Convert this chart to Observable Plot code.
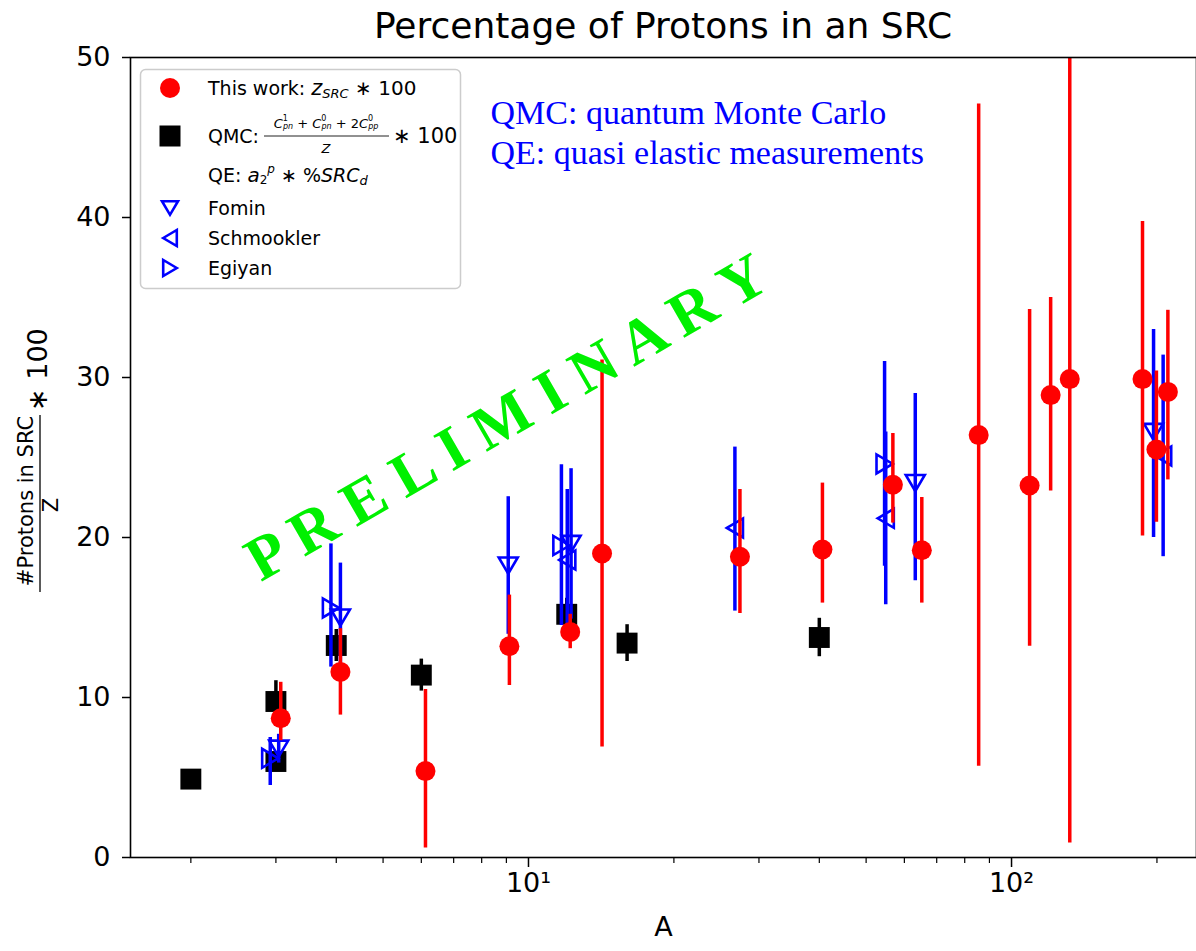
<!DOCTYPE html>
<html><head><meta charset="utf-8">
<script src="https://cdn.jsdelivr.net/npm/d3@7"></script>
<script src="https://cdn.jsdelivr.net/npm/@observablehq/plot@0.6"></script>
<style>
body{margin:0;background:#fff;width:1196px;height:951px;overflow:hidden;}
#title{height:50px;line-height:52px;padding-left:130px;text-align:center;font-family:"DejaVu Sans";font-size:36px;color:#000;}
</style></head><body>
<div id="title">Percentage of Protons in an SRC</div>
<div id="chart"></div>
<script>
// ---- This work: z_SRC * 100 ----
const workA  = [3.07, 4.08, 6.12, 9.13, 12.2, 14.2, 27.4, 40.6, 56.8, 65.2, 85.5, 109, 120.5, 132, 186.7, 199.5, 210.7];
const workY  = [8.7, 11.6, 5.4, 13.2, 14.1, 19.0, 18.8, 19.25, 23.3, 19.2, 26.4, 23.25, 28.9, 29.9, 29.9, 25.5, 29.1];
const workLo = [7.3, 8.9, 0.6, 10.75, 13.05, 6.9, 15.25, 15.9, 20.9, 15.9, 5.7, 13.2, 22.9, 0.9, 20.1, 20.95, 23.6];
const workHi = [10.95, 14.3, 10.5, 16.4, 15.2, 31.1, 23.0, 23.4, 26.5, 22.5, 47.1, 34.25, 35.0, 58.9, 39.75, 30.4, 34.2];
// ---- QMC ----
const qmcA   = [2, 3, 3, 4, 6, 12, 16, 40];
const qmcY   = [4.9, 9.75, 6.0, 13.25, 11.4, 15.2, 13.4, 13.75];
const qmcErr = [0.1, 1.3, 0.6, 1.0, 1.0, 1.0, 1.15, 1.2];
// ---- QE: Fomin ----
const fominA  = [3.04, 4.08, 9.08, 12.25, 63.2, 196.8];
const fominY  = [6.8, 15.0, 18.25, 19.6, 23.4, 26.6];
const fominLo = [5.9, 11.6, 13.95, 14.9, 17.3, 20.0];
const fominHi = [7.7, 18.4, 22.55, 24.3, 29.0, 33.0];
// ---- QE: Schmookler ----
const schmA  = [12.03, 26.75, 54.9, 206];
const schmY  = [18.6, 20.6, 21.2, 25.1];
const schmLo = [14.2, 15.4, 15.8, 18.8];
const schmHi = [23.0, 25.65, 26.6, 31.4];
// ---- QE: Egiyan ----
const egiA  = [2.92, 3.9, 11.7, 54.6];
const egiY  = [6.2, 15.6, 19.5, 24.6];
const egiLo = [4.5, 11.9, 14.5, 18.2];
const egiHi = [7.5, 19.6, 24.55, 31.0];
// ---- axes ----
const yTicks = [0, 10, 20, 30, 40, 50];
const xMajor = [10, 100];
const xMajorLabels = ["10¹", "10²"];
const xMinor = [2, 3, 4, 5, 6, 7, 8, 9, 20, 30, 40, 50, 60, 70, 80, 90, 200];
const xDomain = [1.5, 241.5];
const yDomain = [0, 50];
const xLabel = "A";
const notes = ["QMC: quantum Monte Carlo", "QE: quasi elastic measurements"];
const watermark = "P R E L I M I N A R Y";

const rows = (A, Y, lo, hi) => A.map((a, i) => ({A: a, y: Y[i], lo: lo[i], hi: hi[i]}));
const work = rows(workA, workY, workLo, workHi);
const qmc = rows(qmcA, qmcY, qmcY.map((v, i) => v - qmcErr[i]), qmcY.map((v, i) => v + qmcErr[i]));
const fomin = rows(fominA, fominY, fominLo, fominHi);
const schm = rows(schmA, schmY, schmLo, schmHi);
const egi = rows(egiA, egiY, egiLo, egiHi);

// custom triangle symbols
const triDown = {draw(ctx, size) { const s = Math.sqrt(size / Math.PI); ctx.moveTo(-s, -0.85 * s); ctx.lineTo(s, -0.85 * s); ctx.lineTo(0, 0.85 * s); ctx.closePath(); }};
const triLeft = {draw(ctx, size) { const s = Math.sqrt(size / Math.PI); ctx.moveTo(-0.85 * s, 0); ctx.lineTo(0.85 * s, -s); ctx.lineTo(0.85 * s, s); ctx.closePath(); }};
const triRight = {draw(ctx, size) { const s = Math.sqrt(size / Math.PI); ctx.moveTo(0.85 * s, 0); ctx.lineTo(-0.85 * s, -s); ctx.lineTo(-0.85 * s, s); ctx.closePath(); }};

const RED = "#ff0000", BLUE = "#0000ff";
const ebar = (data, color) => Plot.ruleX(data, {x: "A", y1: "lo", y2: "hi", stroke: color, strokeWidth: 3.5, clip: true});
const blueDots = (data, sym) => Plot.dot(data, {x: "A", y: "y", symbol: sym, r: 9.5, stroke: BLUE, strokeWidth: 2.6, fill: "none"});

const plot = Plot.plot({
  width: 1196, height: 901,
  marginTop: 7, marginBottom: 94, marginLeft: 130, marginRight: 0,
  style: {fontFamily: "DejaVu Sans", fontSize: "27px", background: "white", overflow: "visible", color: "black"},
  x: {type: "log", domain: xDomain},
  y: {domain: yDomain},
  marks: [
    Plot.axisY({ticks: yTicks, tickSize: 8, tickPadding: 12, label: null, strokeWidth: 1.5}),
    Plot.axisX({ticks: xMajor, tickSize: 10, tickPadding: 5, label: null, strokeWidth: 1.5, tickFormat: d => xMajorLabels[xMajor.indexOf(d)]}),
    Plot.axisX({ticks: xMinor, tickSize: 6, label: null, strokeWidth: 1.2, tickFormat: () => ""}),
    // QMC
    ebar(qmc, "black"),
    Plot.dot(qmc, {x: "A", y: "y", symbol: "square", r: 11.8, fill: "black"}),
    // QE
    ebar(fomin, BLUE), ebar(schm, BLUE), ebar(egi, BLUE),
    blueDots(fomin, triDown), blueDots(schm, triLeft), blueDots(egi, triRight),
    // This work
    ebar(work, RED),
    Plot.dot(work, {x: "A", y: "y", r: 10, fill: RED}),
    Plot.frame({stroke: "black", strokeWidth: 1.6}),
    Plot.text([xLabel], {frameAnchor: "bottom", dy: 78, fontSize: 27}),
    Plot.text([notes.join("\n")], {frameAnchor: "top-left", dx: 360, dy: 38, textAnchor: "start", lineAnchor: "top", lineHeight: 1.17, fontSize: 34, fontFamily: "Liberation Serif", fill: BLUE}),
    Plot.text([watermark], {frameAnchor: "top-left", dx: 376, dy: 360, textAnchor: "middle", lineAnchor: "middle", rotate: -30, fontSize: 62, fontWeight: "bold", fontFamily: "Liberation Serif", fill: "#00f000"})
  ]
});
document.getElementById("chart").appendChild(plot);

// ---------- legend & y label (annotation text) ----------
const svg = d3.select(plot);
function rich(g, x, y, parts, anchor) {
  const t = g.append("text").attr("x", x).attr("y", y).attr("dominant-baseline", "central").attr("text-anchor", anchor || "start");
  let cur = 0;
  for (const p of parts) {
    const s = t.append("tspan").text(p.t);
    if (p.size) s.attr("font-size", p.size);
    if (p.it) s.attr("font-style", "italic");
    const sh = p.sh || 0;
    if (sh !== cur) { s.attr("dy", sh - cur); cur = sh; }
    if (p.dx) s.attr("dx", p.dx);
  }
  return t;
}
const lg = svg.append("g").attr("font-family", "DejaVu Sans").attr("font-size", 19).attr("fill", "black");
lg.append("rect").attr("x", 140.5).attr("y", 19.5).attr("width", 320).attr("height", 219).attr("rx", 5)
  .attr("fill", "white").attr("fill-opacity", 0.8).attr("stroke", "#cccccc").attr("stroke-width", 1.5);
const mx = 170, tx = 208;
lg.append("circle").attr("cx", mx).attr("cy", 38).attr("r", 10).attr("fill", RED);
rich(lg, tx, 38, [{t: "This work: "}, {t: "z", it: 1, size: 21}, {t: "SRC", it: 1, size: 13, sh: 5}, {t: " ∗ 100", size: 20, sh: 0}]);
lg.append("rect").attr("x", mx - 10.5).attr("y", 86 - 10.5).attr("width", 21).attr("height", 21).attr("fill", "black");
rich(lg, tx, 86, [{t: "QMC:"}]);
rich(lg, 326, 73, [
  {t: "C", it: 1, size: 13}, {t: "1", size: 8, sh: -5}, {t: "pn", it: 1, size: 8, sh: 3, dx: -5},
  {t: " + ", size: 13, sh: 0}, {t: "C", it: 1, size: 13}, {t: "0", size: 8, sh: -5}, {t: "pn", it: 1, size: 8, sh: 3, dx: -5},
  {t: " + 2", size: 13, sh: 0}, {t: "C", it: 1, size: 13}, {t: "0", size: 8, sh: -5}, {t: "pp", it: 1, size: 8, sh: 3, dx: -5}
], "middle");
lg.append("line").attr("x1", 264).attr("x2", 389).attr("y1", 86).attr("y2", 86).attr("stroke", "#222").attr("stroke-width", 1);
rich(lg, 326, 98, [{t: "Z", it: 1, size: 13}], "middle");
rich(lg, 393, 86, [{t: "∗ 100", size: 21}]);
rich(lg, tx, 125, [{t: "QE: "}, {t: "a", it: 1, size: 20}, {t: "2", size: 12, sh: 5}, {t: "p", it: 1, size: 12, sh: -6}, {t: " ∗ %", size: 19, sh: 0}, {t: "SRC", it: 1, size: 19}, {t: "d", it: 1, size: 13, sh: 5}]);
const legSyms = [[triDown, 158, "Fomin"], [triLeft, 188, "Schmookler"], [triRight, 218, "Egiyan"]];
for (const [sym, yy, label] of legSyms) {
  lg.append("path").attr("transform", `translate(${mx},${yy})`).attr("d", d3.symbol(sym, Math.PI * 8 * 8)())
    .attr("fill", "none").attr("stroke", BLUE).attr("stroke-width", 2.6);
  rich(lg, tx, yy, [{t: label}]);
}
// y axis label as a fraction
const yl = svg.append("g").attr("font-family", "DejaVu Sans").attr("fill", "black");
yl.append("text").attr("transform", "translate(33,451) rotate(-90)").attr("text-anchor", "middle").attr("font-size", 21).text("#Protons in SRC");
yl.append("line").attr("x1", 40).attr("x2", 40).attr("y1", 365).attr("y2", 542).attr("stroke", "black").attr("stroke-width", 1.3);
yl.append("text").attr("transform", "translate(58,455) rotate(-90)").attr("text-anchor", "middle").attr("font-size", 21).text("Z");
yl.append("text").attr("transform", "translate(47,361) rotate(-90)").attr("text-anchor", "start").attr("font-size", 27).text("∗ 100");
</script></body></html>
